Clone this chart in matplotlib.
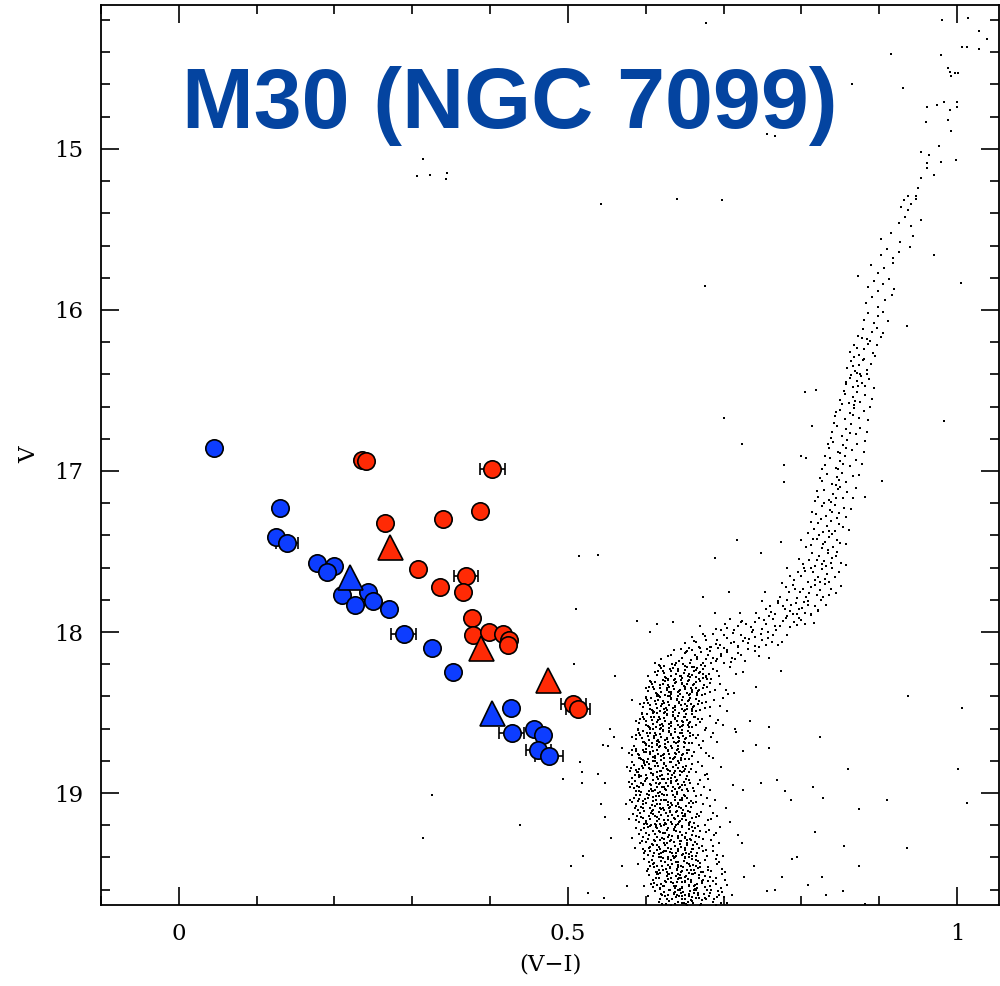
import numpy as np
import matplotlib
matplotlib.use('Agg')
import matplotlib.pyplot as plt
from matplotlib.ticker import MultipleLocator

# cluster stars: main sequence / turnoff / subgiant region, (V-I, V)
ms_stars = [
    (0.612,19.61),(0.628,19.63),(0.641,19.60),(0.655,19.64),(0.667,19.62),(0.634,19.66),(0.649,19.68),(0.660,19.67),
    (0.676,19.65),(0.621,19.69),(0.645,19.62),(0.638,19.69),(0.671,19.69),(0.688,19.66),(0.603,19.64),(0.657,19.61),
    (0.683,19.62),(0.630,19.60),(0.664,19.65),(0.619,19.66),(0.646,19.66),(0.652,19.69),(0.697,19.68),(0.625,19.64),
    (0.679,19.60),(0.711,19.63),(0.636,19.62),(0.662,19.60),(0.693,19.61),(0.643,19.64),
    (0.604,19.51),(0.617,19.53),(0.629,19.50),(0.640,19.55),(0.651,19.52),(0.663,19.57),(0.674,19.54),(0.623,19.58),
    (0.635,19.56),(0.647,19.59),(0.658,19.54),(0.669,19.51),(0.611,19.56),(0.682,19.58),(0.644,19.51),(0.632,19.53),
    (0.655,19.57),(0.618,19.59),(0.666,19.59),(0.598,19.58),(0.639,19.58),(0.650,19.55),(0.626,19.55),(0.660,19.50),
    (0.690,19.53),(0.705,19.57),(0.672,19.56),(0.614,19.50),(0.645,19.53),(0.726,19.52),
    (0.598,19.41),(0.609,19.44),(0.620,19.42),(0.631,19.46),(0.642,19.43),(0.653,19.48),(0.664,19.45),(0.614,19.49),
    (0.626,19.47),(0.637,19.40),(0.648,19.46),(0.659,19.41),(0.603,19.47),(0.671,19.49),(0.634,19.44),(0.622,19.48),
    (0.645,19.49),(0.656,19.44),(0.617,19.40),(0.667,19.42),(0.629,19.41),(0.640,19.47),(0.680,19.46),(0.694,19.43),
    (0.651,19.40),(0.611,19.46),(0.662,19.48),(0.702,19.49),(0.590,19.44),(0.739,19.45),
    (0.593,19.31),(0.604,19.34),(0.615,19.32),(0.626,19.36),(0.637,19.33),(0.648,19.38),(0.659,19.35),(0.609,19.39),
    (0.620,19.37),(0.631,19.30),(0.642,19.36),(0.653,19.31),(0.598,19.37),(0.665,19.39),(0.629,19.34),(0.617,19.38),
    (0.639,19.39),(0.650,19.34),(0.612,19.30),(0.661,19.32),(0.624,19.31),(0.634,19.37),(0.673,19.36),(0.687,19.33),
    (0.645,19.30),(0.606,19.36),(0.656,19.38),(0.699,19.39),(0.586,19.34),(0.724,19.31),
    (0.588,19.22),(0.596,19.27),(0.603,19.21),(0.611,19.29),(0.618,19.24),(0.624,19.20),(0.630,19.26),(0.636,19.23),
    (0.641,19.28),(0.647,19.21),(0.652,19.25),(0.658,19.29),(0.663,19.22),(0.669,19.27),(0.600,19.25),(0.614,19.22),
    (0.621,19.28),(0.627,19.23),(0.633,19.29),(0.644,19.24),(0.655,19.20),(0.607,19.20),(0.639,19.20),(0.650,19.28),
    (0.677,19.24),(0.684,19.29),(0.696,19.21),(0.719,19.26),(0.582,19.28),(0.660,19.26),
    (0.584,19.13),(0.591,19.18),(0.598,19.11),(0.605,19.16),(0.612,19.19),(0.617,19.12),(0.623,19.17),(0.629,19.14),
    (0.634,19.19),(0.640,19.11),(0.646,19.16),(0.651,19.13),(0.657,19.18),(0.664,19.15),(0.594,19.15),(0.609,19.13),
    (0.620,19.10),(0.626,19.19),(0.637,19.16),(0.643,19.18),(0.654,19.11),(0.602,19.19),(0.631,19.11),(0.648,19.14),
    (0.671,19.12),(0.680,19.17),(0.692,19.14),(0.708,19.18),(0.578,19.16),(0.615,19.15),
    (0.580,19.04),(0.587,19.08),(0.593,19.01),(0.600,19.06),(0.606,19.09),(0.613,19.02),(0.619,19.07),(0.624,19.04),
    (0.630,19.09),(0.635,19.01),(0.641,19.06),(0.647,19.03),(0.652,19.08),(0.658,19.05),(0.590,19.05),(0.603,19.03),
    (0.616,19.00),(0.622,19.09),(0.633,19.06),(0.639,19.08),(0.649,19.01),(0.597,19.09),(0.627,19.01),(0.644,19.04),
    (0.665,19.02),(0.674,19.07),(0.689,19.04),(0.703,19.09),(0.575,19.07),(0.610,19.05),
    (0.578,18.93),(0.585,18.97),(0.591,18.90),(0.597,18.95),(0.604,18.99),(0.609,18.92),(0.615,18.96),(0.621,18.91),
    (0.626,18.98),(0.632,18.94),(0.638,18.90),(0.643,18.97),(0.649,18.93),(0.654,18.99),(0.588,18.99),(0.600,18.91),
    (0.612,18.98),(0.618,18.94),(0.629,18.91),(0.635,18.96),(0.646,18.95),(0.594,18.94),(0.623,18.96),(0.640,18.92),
    (0.661,18.97),(0.670,18.92),(0.683,18.98),(0.712,18.95),(0.607,18.95),(0.652,18.91),
    (0.576,18.84),(0.583,18.81),(0.589,18.87),(0.595,18.83),(0.601,18.89),(0.607,18.85),(0.612,18.80),(0.618,18.86),
    (0.624,18.82),(0.629,18.88),(0.635,18.84),(0.641,18.80),(0.646,18.87),(0.652,18.83),(0.586,18.89),(0.598,18.80),
    (0.610,18.88),(0.616,18.83),(0.627,18.85),(0.633,18.81),(0.644,18.89),(0.592,18.85),(0.621,18.89),(0.638,18.86),
    (0.658,18.85),(0.667,18.81),(0.679,18.88),(0.697,18.84),(0.604,18.82),(0.649,18.86),
    (0.578,18.75),(0.585,18.71),(0.591,18.78),(0.597,18.73),(0.603,18.79),(0.609,18.74),(0.614,18.70),(0.620,18.77),
    (0.626,18.72),(0.631,18.78),(0.637,18.75),(0.642,18.71),(0.648,18.76),(0.653,18.73),(0.588,18.74),(0.600,18.70),
    (0.612,18.77),(0.618,18.71),(0.629,18.74),(0.635,18.79),(0.645,18.78),(0.594,18.79),(0.623,18.76),(0.640,18.73),
    (0.660,18.77),(0.671,18.72),(0.686,18.78),(0.725,18.74),(0.606,18.76),(0.651,18.79),
    (0.583,18.65),(0.590,18.61),(0.596,18.68),(0.602,18.63),(0.608,18.69),(0.613,18.64),(0.619,18.60),(0.625,18.67),
    (0.630,18.62),(0.636,18.68),(0.641,18.65),(0.647,18.61),(0.652,18.66),(0.657,18.63),(0.593,18.64),(0.605,18.60),
    (0.616,18.67),(0.622,18.61),(0.633,18.64),(0.639,18.69),(0.649,18.68),(0.599,18.69),(0.627,18.66),(0.644,18.63),
    (0.664,18.66),(0.676,18.61),(0.692,18.68),(0.716,18.62),(0.611,18.66),(0.655,18.69),
    (0.588,18.55),(0.595,18.51),(0.601,18.58),(0.607,18.53),(0.613,18.59),(0.618,18.54),(0.624,18.50),(0.630,18.57),
    (0.635,18.52),(0.641,18.58),(0.646,18.55),(0.652,18.51),(0.657,18.56),(0.663,18.53),(0.598,18.54),(0.610,18.50),
    (0.621,18.57),(0.627,18.51),(0.638,18.54),(0.644,18.59),(0.654,18.58),(0.604,18.59),(0.632,18.56),(0.649,18.53),
    (0.670,18.56),(0.682,18.52),(0.699,18.58),(0.615,18.56),(0.660,18.59),(0.734,18.55),
    (0.593,18.45),(0.600,18.41),(0.606,18.48),(0.612,18.43),(0.618,18.49),(0.623,18.44),(0.629,18.40),(0.635,18.47),
    (0.640,18.42),(0.646,18.48),(0.651,18.45),(0.657,18.41),(0.662,18.46),(0.668,18.43),(0.603,18.44),(0.615,18.40),
    (0.626,18.47),(0.632,18.41),(0.643,18.44),(0.649,18.49),(0.659,18.48),(0.609,18.49),(0.637,18.46),(0.654,18.43),
    (0.676,18.47),(0.688,18.42),(0.705,18.49),(0.620,18.46),(0.665,18.49),(0.583,18.42),
    (0.600,18.35),(0.607,18.31),(0.613,18.38),(0.619,18.33),(0.625,18.39),(0.630,18.34),(0.636,18.30),(0.642,18.37),
    (0.647,18.32),(0.653,18.38),(0.658,18.35),(0.664,18.31),(0.669,18.36),(0.675,18.33),(0.610,18.34),(0.622,18.30),
    (0.633,18.37),(0.639,18.31),(0.650,18.34),(0.656,18.39),(0.666,18.38),(0.616,18.39),(0.644,18.36),(0.661,18.33),
    (0.683,18.37),(0.696,18.32),(0.713,18.38),(0.627,18.36),(0.672,18.39),(0.742,18.34),
    (0.612,18.25),(0.619,18.21),(0.625,18.28),(0.631,18.23),(0.637,18.29),(0.642,18.24),(0.648,18.20),(0.654,18.27),
    (0.659,18.22),(0.665,18.28),(0.670,18.25),(0.676,18.21),(0.681,18.26),(0.687,18.23),(0.622,18.24),(0.634,18.20),
    (0.645,18.27),(0.651,18.21),(0.662,18.24),(0.668,18.29),(0.678,18.28),(0.628,18.29),(0.656,18.26),(0.673,18.23),
    (0.694,18.27),(0.708,18.22),(0.639,18.26),(0.684,18.29),(0.725,18.25),(0.603,18.27),
    (0.628,18.15),(0.636,18.11),(0.643,18.18),(0.650,18.13),(0.657,18.19),(0.663,18.14),(0.670,18.10),(0.677,18.17),
    (0.683,18.12),(0.690,18.18),(0.697,18.15),(0.704,18.11),(0.711,18.16),(0.646,18.16),(0.660,18.11),(0.673,18.19),
    (0.686,18.16),(0.700,18.19),(0.718,18.13),(0.639,18.19),(0.653,18.12),(0.666,18.17),(0.680,18.14),(0.693,18.10),
    (0.728,18.18),(0.741,18.12),(0.620,18.17),(0.758,18.16),
    (0.650,18.07),(0.660,18.03),(0.669,18.09),(0.678,18.05),(0.687,18.01),(0.696,18.08),(0.705,18.04),(0.714,18.06),
    (0.723,18.02),(0.732,18.07),(0.741,18.03),(0.750,18.05),(0.664,18.06),(0.682,18.09),(0.700,18.02),(0.718,18.09),
    (0.736,18.00),(0.755,18.08),(0.673,18.01),(0.691,18.05),(0.709,18.07),(0.727,18.04),(0.746,18.09),(0.764,18.02),
    (0.775,18.06),(0.655,18.10),
    (0.690,17.98),(0.702,17.95),(0.713,17.99),(0.724,17.93),(0.735,17.97),(0.745,17.91),(0.754,17.95),(0.763,17.92),
    (0.772,17.96),(0.781,17.90),(0.790,17.94),(0.708,17.92),(0.729,17.95),(0.749,17.98),(0.767,17.99),(0.785,17.97),
    (0.718,17.96),(0.740,17.94),(0.758,17.90),(0.776,17.93),(0.797,17.91),(0.697,17.99),(0.805,17.95),
    (0.742,17.88),(0.755,17.86),(0.766,17.89),(0.776,17.84),(0.785,17.87),(0.793,17.82),(0.801,17.85),(0.809,17.81),
    (0.817,17.84),(0.825,17.80),(0.770,17.82),(0.789,17.89),(0.805,17.88),(0.821,17.87),(0.760,17.84),(0.797,17.86),
    (0.813,17.89),(0.781,17.80),(0.832,17.83),(0.750,17.81),
    (0.772,17.78),(0.784,17.75),(0.794,17.79),(0.802,17.73),(0.810,17.76),(0.817,17.71),(0.824,17.74),(0.831,17.70),
    (0.838,17.73),(0.789,17.71),(0.806,17.78),(0.820,17.77),(0.798,17.75),(0.813,17.72),(0.828,17.78),(0.845,17.76),
    (0.780,17.72),(0.835,17.77),
    (0.790,17.68),(0.800,17.65),(0.808,17.69),(0.815,17.63),(0.821,17.66),(0.827,17.61),(0.833,17.64),(0.839,17.60),
    (0.805,17.62),(0.818,17.68),(0.830,17.67),(0.812,17.60),(0.824,17.69),(0.843,17.66),(0.796,17.63),(0.836,17.69),
    (0.802,17.58),(0.810,17.55),(0.817,17.59),(0.823,17.53),(0.829,17.56),(0.834,17.51),(0.840,17.54),(0.846,17.50),
    (0.814,17.51),(0.826,17.58),(0.838,17.57),(0.820,17.55),(0.851,17.57),(0.832,17.59),
]

# densest part of the main sequence and turnoff
ms_core_stars = [
    (0.617,19.675),(0.624,19.615),(0.633,19.695),(0.639,19.645),(0.644,19.605),(0.650,19.655),(0.656,19.625),
    (0.661,19.685),(0.667,19.635),(0.672,19.665),(0.627,19.655),(0.636,19.625),(0.642,19.675),(0.648,19.615),
    (0.653,19.695),(0.659,19.645),(0.664,19.605),(0.670,19.695),(0.675,19.625),(0.621,19.635),(0.631,19.605),
    (0.646,19.685),(0.658,19.665),(0.678,19.655),(0.640,19.635),
    (0.607,19.565),(0.613,19.525),(0.619,19.595),(0.625,19.545),(0.630,19.505),(0.636,19.575),(0.641,19.535),
    (0.647,19.585),(0.652,19.515),(0.658,19.555),(0.663,19.595),(0.669,19.525),(0.616,19.505),(0.622,19.575),
    (0.628,19.535),(0.633,19.555),(0.639,19.515),(0.644,19.595),(0.650,19.545),(0.655,19.575),(0.661,19.505),
    (0.666,19.565),(0.672,19.545),(0.610,19.585),(0.643,19.525),
    (0.602,19.485),(0.608,19.415),(0.614,19.455),(0.619,19.495),(0.625,19.425),(0.631,19.465),(0.636,19.405),
    (0.642,19.445),(0.647,19.485),(0.653,19.435),(0.658,19.475),(0.664,19.415),(0.611,19.435),(0.617,19.475),
    (0.622,19.405),(0.628,19.445),(0.634,19.495),(0.639,19.425),(0.645,19.455),(0.650,19.405),(0.656,19.495),
    (0.661,19.445),(0.667,19.465),(0.605,19.455),(0.640,19.475),
    (0.597,19.345),(0.603,19.385),(0.608,19.315),(0.614,19.355),(0.620,19.395),(0.625,19.325),(0.631,19.365),
    (0.636,19.305),(0.642,19.345),(0.647,19.385),(0.653,19.325),(0.658,19.365),(0.663,19.305),(0.600,19.305),
    (0.611,19.375),(0.617,19.335),(0.622,19.365),(0.628,19.395),(0.633,19.345),(0.639,19.375),(0.644,19.315),
    (0.650,19.355),(0.655,19.395),(0.661,19.345),(0.606,19.335),
    (0.592,19.255),(0.598,19.215),(0.603,19.285),(0.609,19.235),(0.614,19.275),(0.620,19.205),(0.625,19.245),
    (0.631,19.295),(0.636,19.225),(0.641,19.265),(0.647,19.205),(0.652,19.245),(0.657,19.285),(0.595,19.295),
    (0.601,19.245),(0.606,19.205),(0.612,19.255),(0.617,19.235),(0.623,19.285),(0.628,19.215),(0.634,19.265),
    (0.639,19.235),(0.644,19.295),(0.650,19.275),(0.655,19.225),
    (0.587,19.165),(0.593,19.125),(0.598,19.195),(0.604,19.145),(0.609,19.105),(0.615,19.175),(0.620,19.135),
    (0.625,19.185),(0.631,19.115),(0.636,19.155),(0.641,19.195),(0.647,19.125),(0.652,19.165),(0.590,19.105),
    (0.596,19.155),(0.601,19.185),(0.607,19.125),(0.612,19.145),(0.618,19.195),(0.623,19.105),(0.628,19.165),
    (0.634,19.135),(0.639,19.115),(0.644,19.175),(0.650,19.145),
    (0.583,19.055),(0.588,19.015),(0.594,19.085),(0.599,19.035),(0.605,19.095),(0.610,19.025),(0.615,19.065),
    (0.621,19.005),(0.626,19.045),(0.631,19.085),(0.637,19.025),(0.642,19.065),(0.647,19.045),(0.586,19.095),
    (0.591,19.035),(0.597,19.065),(0.602,19.005),(0.608,19.075),(0.613,19.045),(0.618,19.095),(0.624,19.015),
    (0.629,19.055),(0.634,19.075),(0.640,19.005),(0.645,19.095),
    (0.580,18.965),(0.586,18.925),(0.591,18.985),(0.597,18.945),(0.602,18.905),(0.607,18.975),(0.613,18.935),
    (0.618,18.995),(0.623,18.915),(0.629,18.955),(0.634,18.985),(0.639,18.925),(0.644,18.965),(0.583,18.905),
    (0.589,18.955),(0.594,18.995),(0.599,18.925),(0.605,18.945),(0.610,18.985),(0.616,18.915),(0.621,18.965),
    (0.626,18.935),(0.632,18.905),(0.637,18.975),(0.642,18.945),
    (0.580,18.865),(0.585,18.825),(0.591,18.885),(0.596,18.845),(0.602,18.805),(0.607,18.875),(0.612,18.835),
    (0.618,18.895),(0.623,18.815),(0.628,18.855),(0.634,18.885),(0.639,18.825),(0.644,18.865),(0.583,18.805),
    (0.588,18.855),(0.594,18.895),(0.599,18.825),(0.604,18.845),(0.610,18.885),(0.615,18.815),(0.620,18.865),
    (0.626,18.835),(0.631,18.805),(0.636,18.875),(0.641,18.845),
    (0.582,18.765),(0.587,18.725),(0.593,18.785),(0.598,18.745),(0.604,18.705),(0.609,18.775),(0.614,18.735),
    (0.620,18.795),(0.625,18.715),(0.630,18.755),(0.636,18.785),(0.641,18.725),(0.646,18.765),(0.585,18.705),
    (0.590,18.755),(0.596,18.795),(0.601,18.725),(0.606,18.745),(0.612,18.785),(0.617,18.715),(0.622,18.765),
    (0.628,18.735),(0.633,18.705),(0.638,18.775),(0.643,18.745),
    (0.587,18.665),(0.592,18.625),(0.598,18.685),(0.603,18.645),(0.609,18.605),(0.614,18.675),(0.619,18.635),
    (0.625,18.695),(0.630,18.615),(0.635,18.655),(0.641,18.685),(0.646,18.625),(0.651,18.665),(0.590,18.605),
    (0.595,18.655),(0.601,18.695),(0.606,18.625),(0.611,18.645),(0.617,18.685),(0.622,18.615),(0.627,18.665),
    (0.633,18.635),(0.638,18.605),(0.643,18.675),(0.648,18.645),
    (0.592,18.565),(0.597,18.525),(0.603,18.585),(0.608,18.545),(0.614,18.505),(0.619,18.575),(0.624,18.535),
    (0.630,18.595),(0.635,18.515),(0.640,18.555),(0.646,18.585),(0.651,18.525),(0.656,18.565),(0.595,18.505),
    (0.600,18.555),(0.606,18.595),(0.611,18.525),(0.616,18.545),(0.622,18.585),(0.627,18.515),(0.632,18.565),
    (0.638,18.535),(0.643,18.505),(0.648,18.575),(0.653,18.545),
    (0.597,18.465),(0.602,18.425),(0.608,18.485),(0.613,18.445),(0.619,18.405),(0.624,18.475),(0.629,18.435),
    (0.635,18.495),(0.640,18.415),(0.645,18.455),(0.651,18.485),(0.656,18.425),(0.661,18.465),(0.600,18.405),
    (0.605,18.455),(0.611,18.495),(0.616,18.425),(0.621,18.445),(0.627,18.485),(0.632,18.415),(0.637,18.465),
    (0.643,18.435),(0.648,18.405),(0.653,18.475),(0.658,18.445),
    (0.603,18.365),(0.608,18.325),(0.614,18.385),(0.619,18.345),(0.625,18.305),(0.630,18.375),(0.635,18.335),
    (0.641,18.395),(0.646,18.315),(0.651,18.355),(0.657,18.385),(0.662,18.325),(0.667,18.365),(0.606,18.305),
    (0.611,18.355),(0.617,18.395),(0.622,18.325),(0.627,18.345),(0.633,18.385),(0.638,18.315),(0.643,18.365),
    (0.649,18.335),(0.654,18.305),(0.659,18.375),(0.664,18.345),
    (0.614,18.265),(0.620,18.225),(0.626,18.285),(0.632,18.245),(0.638,18.205),(0.644,18.275),(0.650,18.235),
    (0.656,18.295),(0.662,18.215),(0.668,18.255),(0.674,18.285),(0.617,18.205),(0.623,18.255),(0.629,18.295),
    (0.635,18.225),(0.641,18.245),(0.647,18.285),(0.653,18.215),(0.659,18.265),(0.665,18.235),(0.671,18.205),
    (0.677,18.275),
    (0.632,18.145),(0.645,18.105),(0.658,18.175),(0.671,18.125),(0.684,18.195),(0.697,18.135),(0.710,18.185),
    (0.652,18.125),(0.666,18.155),(0.679,18.105),(0.692,18.165),(0.705,18.125),(0.723,18.145),
    (0.662,18.055),(0.676,18.025),(0.690,18.075),(0.704,18.035),(0.718,18.085),(0.733,18.045),(0.748,18.015),
    (0.762,18.065),(0.684,18.095),(0.712,18.005),(0.740,18.085),
    (0.705,17.975),(0.722,17.935),(0.738,17.985),(0.752,17.925),(0.766,17.965),(0.780,17.915),(0.794,17.955),
    (0.761,17.875),(0.779,17.855),(0.795,17.885),(0.808,17.835),(0.822,17.865),(0.770,17.805),(0.787,17.835),
    (0.803,17.815),
]

# more main-sequence stars between the ones above
ms_fill_stars = [
    (0.620,19.628),(0.630,19.672),(0.637,19.612),(0.647,19.642),(0.654,19.678),(0.662,19.618),(0.668,19.652),
    (0.681,19.638),(0.690,19.692),(0.700,19.648),(0.626,19.688),(0.651,19.632),
    (0.609,19.538),(0.620,19.562),(0.627,19.518),(0.637,19.592),(0.646,19.552),(0.654,19.532),(0.662,19.578),
    (0.676,19.512),(0.686,19.548),(0.697,19.588),(0.615,19.572),(0.641,19.502),
    (0.604,19.428),(0.613,19.488),(0.621,19.452),(0.633,19.418),(0.641,19.462),(0.649,19.422),(0.657,19.452),
    (0.670,19.432),(0.680,19.478),(0.690,19.412),(0.627,19.492),(0.663,19.498),
    (0.599,19.362),(0.610,19.322),(0.618,19.348),(0.627,19.312),(0.635,19.388),(0.645,19.338),(0.652,19.372),
    (0.666,19.318),(0.677,19.352),(0.691,19.382),(0.623,19.358),(0.659,19.392),
    (0.594,19.232),(0.604,19.262),(0.613,19.212),(0.622,19.248),(0.629,19.272),(0.638,19.208),(0.646,19.262),
    (0.660,19.212),(0.670,19.238),(0.688,19.262),(0.618,19.292),(0.653,19.292),
    (0.589,19.142),(0.600,19.172),(0.608,19.112),(0.617,19.158),(0.626,19.122),(0.633,19.178),(0.642,19.142),
    (0.655,19.188),(0.666,19.132),(0.684,19.158),(0.613,19.198),(0.648,19.108),
    (0.585,19.032),(0.596,19.052),(0.604,19.012),(0.612,19.082),(0.620,19.042),(0.628,19.072),(0.638,19.042),
    (0.650,19.018),(0.661,19.062),(0.679,19.028),(0.617,19.018),(0.643,19.088),
    (0.582,18.942),(0.592,18.962),(0.600,18.912),(0.608,18.988),(0.617,18.942),(0.625,18.972),(0.633,18.922),
    (0.647,18.982),(0.657,18.938),(0.675,18.962),(0.614,18.902),(0.640,18.992),
    (0.581,18.842),(0.590,18.872),(0.598,18.812),(0.606,18.852),(0.614,18.872),(0.622,18.842),(0.631,18.862),
    (0.643,18.812),(0.655,18.872),(0.672,18.832),(0.609,18.802),(0.637,18.898),
    (0.583,18.732),(0.592,18.762),(0.600,18.742),(0.608,18.712),(0.616,18.758),(0.624,18.782),(0.634,18.722),
    (0.645,18.792),(0.656,18.732),(0.678,18.752),(0.611,18.798),(0.639,18.758),
    (0.588,18.642),(0.597,18.612),(0.604,18.672),(0.612,18.628),(0.620,18.652),(0.628,18.682),(0.637,18.622),
    (0.650,18.692),(0.661,18.642),(0.684,18.652),(0.615,18.698),(0.643,18.658),
    (0.593,18.542),(0.602,18.512),(0.609,18.572),(0.617,18.528),(0.625,18.552),(0.633,18.582),(0.642,18.522),
    (0.655,18.592),(0.667,18.542),(0.690,18.562),(0.620,18.598),(0.648,18.558),
    (0.598,18.442),(0.607,18.412),(0.614,18.472),(0.622,18.428),(0.630,18.452),(0.638,18.482),(0.647,18.422),
    (0.660,18.492),(0.672,18.442),(0.696,18.462),(0.625,18.498),(0.653,18.458),
    (0.604,18.342),(0.612,18.312),(0.620,18.372),(0.628,18.328),(0.636,18.352),(0.644,18.382),(0.653,18.322),
    (0.666,18.392),(0.679,18.342),(0.703,18.362),(0.631,18.398),(0.660,18.358),
    (0.616,18.242),(0.624,18.212),(0.633,18.272),(0.641,18.228),(0.649,18.252),(0.657,18.282),(0.666,18.222),
    (0.679,18.292),(0.691,18.242),(0.716,18.262),(0.645,18.298),(0.673,18.258),
]

# red edge of the main sequence and extra subgiants
ms_edge_stars = [
    (0.684,19.603),(0.691,19.647),(0.698,19.617),(0.704,19.683),(0.686,19.677),(0.694,19.633),
    (0.676,19.583),(0.683,19.523),(0.690,19.567),(0.698,19.503),(0.680,19.547),(0.702,19.537),
    (0.670,19.457),(0.676,19.413),(0.684,19.487),(0.692,19.443),(0.673,19.493),(0.698,19.473),
    (0.666,19.373),(0.672,19.327),(0.679,19.393),(0.686,19.357),(0.668,19.343),(0.694,19.313),
    (0.661,19.237),(0.667,19.203),(0.674,19.283),(0.681,19.227),(0.664,19.267),(0.690,19.247),
    (0.657,19.117),(0.662,19.183),(0.669,19.143),(0.676,19.197),(0.660,19.153),(0.686,19.123),
    (0.653,19.033),(0.658,19.087),(0.665,19.057),(0.671,19.013),(0.656,19.063),(0.683,19.083),
    (0.650,18.953),(0.655,18.917),(0.662,18.987),(0.667,18.943),(0.653,18.973),(0.680,18.913),
    (0.648,18.837),(0.653,18.893),(0.660,18.817),(0.665,18.867),(0.651,18.853),(0.676,18.887),
    (0.649,18.717),(0.655,18.787),(0.662,18.747),(0.668,18.703),(0.653,18.753),(0.681,18.767),
    (0.654,18.617),(0.660,18.687),(0.667,18.637),(0.673,18.677),(0.657,18.647),(0.687,18.627),
    (0.659,18.507),(0.665,18.577),(0.672,18.537),(0.678,18.593),(0.662,18.527),(0.693,18.547),
    (0.664,18.417),(0.670,18.487),(0.677,18.437),(0.683,18.467),(0.667,18.447),(0.699,18.407),
    (0.670,18.307),(0.676,18.387),(0.683,18.317),(0.689,18.357),(0.673,18.347),(0.706,18.387),
    (0.715,18.167),(0.731,18.107),(0.746,18.147),(0.700,18.097),(0.725,18.053),(0.757,18.037),
    (0.770,18.083),(0.782,18.017),(0.757,17.997),(0.786,17.967),(0.800,17.927),(0.812,17.897),(0.816,17.947),
]

# red giant branch above V = 17.5
rgb_stars = [
    (0.812,17.46),(0.820,17.42),(0.826,17.48),(0.831,17.44),(0.836,17.41),(0.841,17.47),(0.846,17.43),(0.823,17.40),
    (0.834,17.49),(0.850,17.45),(0.816,17.36),(0.822,17.32),(0.828,17.38),(0.833,17.34),(0.838,17.31),(0.843,17.37),
    (0.848,17.33),(0.825,17.30),(0.840,17.39),(0.853,17.35),(0.819,17.27),(0.826,17.22),(0.832,17.28),(0.837,17.24),
    (0.843,17.21),(0.849,17.26),(0.855,17.23),(0.829,17.20),(0.846,17.29),(0.822,17.16),(0.829,17.12),(0.835,17.18),
    (0.841,17.14),(0.847,17.11),(0.853,17.17),(0.859,17.13),(0.838,17.19),(0.850,17.10),(0.826,17.06),(0.833,17.02),
    (0.840,17.08),(0.846,17.04),(0.852,17.01),(0.858,17.07),(0.866,17.03),(0.844,17.09),(0.830,16.96),(0.837,16.92),
    (0.844,16.98),(0.850,16.94),(0.856,16.91),(0.862,16.97),(0.870,16.93),(0.847,16.99),(0.835,16.86),(0.841,16.82),
    (0.847,16.88),(0.853,16.84),(0.859,16.81),(0.865,16.87),(0.872,16.83),(0.850,16.89),(0.839,16.76),(0.846,16.72),
    (0.852,16.78),(0.858,16.74),(0.864,16.71),(0.870,16.77),(0.876,16.73),(0.843,16.66),(0.850,16.62),(0.856,16.68),
    (0.862,16.64),(0.868,16.61),(0.874,16.67),(0.880,16.63),(0.850,16.56),(0.856,16.52),(0.861,16.58),(0.866,16.54),
    (0.871,16.51),(0.876,16.57),(0.882,16.53),(0.868,16.59),(0.857,16.46),(0.862,16.42),(0.867,16.48),(0.872,16.44),
    (0.877,16.41),(0.882,16.47),(0.887,16.43),(0.859,16.36),(0.864,16.32),(0.869,16.38),(0.874,16.34),(0.879,16.31),
    (0.884,16.37),(0.872,16.39),(0.862,16.26),(0.868,16.22),(0.874,16.28),(0.880,16.24),(0.886,16.21),(0.892,16.27),
    (0.873,16.16),(0.879,16.12),(0.885,16.18),(0.891,16.14),(0.897,16.11),(0.903,16.17),(0.888,16.19),(0.880,16.06),
    (0.886,16.02),(0.893,16.08),(0.899,16.04),(0.905,16.01),(0.911,16.07),(0.883,15.96),(0.891,15.92),(0.899,15.98),
    (0.907,15.94),(0.916,15.91),(0.886,15.86),(0.893,15.82),(0.899,15.88),(0.905,15.84),(0.912,15.81),(0.919,15.87),
    (0.873,15.79),(0.890,15.72),(0.898,15.77),(0.906,15.74),(0.918,15.71),(0.902,15.66),(0.910,15.62),(0.918,15.68),
    (0.926,15.64),(0.939,15.61),(0.903,15.56),(0.915,15.52),(0.927,15.58),(0.944,15.54),(0.925,15.46),(0.933,15.42),
    (0.941,15.48),(0.954,15.44),(0.928,15.36),(0.932,15.32),(0.937,15.38),(0.941,15.34),(0.947,15.31),(0.937,15.29),
    (0.947,15.29),(0.950,15.24),(0.954,15.18),(0.970,15.16),(0.962,15.12),(0.954,15.02),(0.964,15.04),(0.961,15.09),
    (0.979,15.08),(0.999,15.07),(0.977,14.98),(0.992,14.89),(0.960,14.83),(0.988,14.82),(0.961,14.74),(0.974,14.73),
    (0.983,14.71),(1.000,14.71),(1.000,14.74),(0.991,14.76),(0.988,14.50),(0.991,14.52),(0.992,14.55),(0.997,14.53),
    (1.001,14.53),(0.979,14.42),(1.006,14.37),(1.013,14.37),(1.028,14.38),(0.981,14.20),(1.014,14.19),(1.028,14.27),
    (1.038,14.32),
    (0.775,17.695),(0.792,17.735),(0.851,17.715),(0.786,17.655),(0.849,17.625),(0.803,17.605),(0.858,17.585),
    (0.797,17.545),(0.845,17.525),(0.806,17.475),(0.858,17.455),(0.815,17.425),(0.809,17.385),(0.861,17.365),
    (0.812,17.315),(0.858,17.285),(0.814,17.255),(0.864,17.235),(0.817,17.185),(0.867,17.165),(0.820,17.125),
    (0.870,17.105),(0.824,17.045),(0.874,17.025),(0.827,16.985),(0.878,16.955),(0.831,16.905),(0.880,16.885),
    (0.834,16.835),(0.882,16.815),(0.838,16.795),(0.884,16.755),(0.842,16.705),(0.886,16.685),(0.845,16.635),
    (0.888,16.605),(0.852,16.585),(0.891,16.555),(0.855,16.505),(0.893,16.485),(0.858,16.445),(0.878,16.455),
    (0.864,16.405),(0.885,16.395),(0.866,16.345),(0.890,16.335),(0.868,16.295),(0.895,16.285),(0.871,16.235),
    (0.897,16.215),(0.878,16.175),(0.905,16.145),
    (0.828,17.455),(0.835,17.375),(0.840,17.255),(0.844,17.165),(0.849,17.055),(0.854,16.955),(0.858,16.855),
    (0.862,16.765),(0.866,16.655),(0.869,16.565),(0.873,16.475),(0.876,16.395),(0.880,16.305),
]

# field / scattered stars
field_stars = [
    (0.314,15.06),(0.306,15.17),(0.323,15.16),(0.344,15.15),(0.343,15.19),(0.542,15.34),(0.640,15.31),(0.698,15.32),
    (0.677,14.22),(0.865,14.60),(0.931,14.62),(0.915,14.41),(0.756,14.91),(0.766,14.92),(0.676,15.85),(1.005,15.83),
    (0.936,16.10),(0.970,15.66),(0.724,16.83),(0.700,16.67),(0.805,16.51),(0.819,16.50),(0.983,16.69),(0.904,17.06),
    (0.882,17.16),(0.778,16.96),(0.778,17.07),(0.800,16.91),(0.806,16.92),(0.814,16.72),(0.514,17.53),(0.539,17.52),
    (0.510,17.86),(0.508,18.20),(0.515,18.81),(0.518,18.87),(0.494,18.91),(0.518,18.94),(0.539,18.88),(0.589,17.93),
    (0.614,17.95),(0.635,17.94),(0.605,18.00),(0.670,17.96),(0.689,17.88),(0.721,17.88),(0.560,18.27),(0.612,18.19),
    (0.774,18.24),(0.937,18.40),(1.006,18.47),(0.758,18.59),(0.824,18.65),(0.715,18.60),(0.742,18.70),(0.758,18.72),
    (0.860,18.85),(1.001,18.85),(1.013,19.06),(0.910,19.04),(0.874,19.10),(0.828,19.03),(0.815,18.96),(0.779,18.99),
    (0.787,19.04),(0.769,18.92),(0.748,18.94),(0.725,18.98),(0.817,19.24),(0.855,19.33),(0.936,19.34),(0.874,19.45),
    (0.826,19.52),(0.794,19.40),(0.788,19.41),(0.808,19.57),(0.832,19.63),(0.853,19.61),(0.882,19.69),(0.775,19.52),
    (0.756,19.61),(0.766,19.60),(0.548,18.94),(0.542,19.07),(0.548,19.15),(0.556,19.28),(0.520,19.39),(0.504,19.45),
    (0.569,19.45),(0.526,19.62),(0.546,19.65),(0.576,19.58),(0.559,18.65),(0.545,18.70),(0.551,18.71),(0.569,18.72),
    (0.554,18.60),(0.325,19.01),(0.438,19.20),(0.314,19.28),(0.717,17.43),(0.774,17.44),(0.800,17.43),(0.748,17.51),
    (0.689,17.54),(0.781,17.60),(0.707,17.75),(0.753,17.75),(0.674,17.78),
]

# variable stars (blue and red groups), xerr = 0 means no error bar shown
blue_vi = [0.045, 0.130, 0.125, 0.139, 0.177, 0.199, 0.190, 0.210, 0.226, 0.243, 0.250,
           0.270, 0.289, 0.325, 0.352, 0.427, 0.428, 0.456, 0.468, 0.462, 0.476]
blue_v = [16.86, 17.23, 17.41, 17.45, 17.57, 17.59, 17.63, 17.77, 17.83, 17.75, 17.81,
          17.86, 18.01, 18.10, 18.25, 18.47, 18.63, 18.60, 18.64, 18.73, 18.77]
blue_err = [0, 0, 0, 0.014, 0, 0, 0, 0, 0, 0, 0,
            0, 0.016, 0, 0, 0, 0.016, 0, 0, 0.016, 0.018]

red_vi = [0.236, 0.240, 0.403, 0.387, 0.339, 0.265, 0.308, 0.369, 0.336, 0.365, 0.377,
          0.378, 0.398, 0.416, 0.424, 0.423, 0.507, 0.513]
red_v = [16.93, 16.94, 16.99, 17.25, 17.30, 17.32, 17.61, 17.65, 17.72, 17.75, 17.91,
         18.02, 18.00, 18.01, 18.05, 18.08, 18.45, 18.48]
red_err = [0, 0, 0.016, 0, 0, 0, 0, 0.016, 0, 0, 0,
           0, 0, 0, 0, 0, 0.016, 0.016]

blue_tri_vi = [0.220, 0.402]
blue_tri_v = [17.66, 18.50]
red_tri_vi = [0.272, 0.388, 0.474]
red_tri_v = [17.47, 18.10, 18.30]

BLUE = '#0d3dff'
RED = '#ff2a05'

fig = plt.figure(figsize=(10, 9.86), dpi=100)
ax = fig.add_axes([0.101, 0.082, 0.898, 0.913])

stars = np.array(ms_stars + ms_core_stars + ms_fill_stars + ms_edge_stars + rgb_stars + field_stars)
ax.plot(stars[:, 0], stars[:, 1], 's', color='black', markersize=1.8,
        markeredgewidth=0, linestyle='none', zorder=1)

# error bars (drawn under the symbols so only the caps show)
for vi, v, err in [(blue_vi, blue_v, blue_err), (red_vi, red_v, red_err)]:
    vi = np.array(vi); v = np.array(v); err = np.array(err)
    m = err > 0
    ax.errorbar(vi[m], v[m], xerr=err[m], fmt='none', ecolor='black',
                elinewidth=1.2, capsize=4.5, capthick=1.2, zorder=2)

ax.plot(blue_vi, blue_v, 'o', color=BLUE, markersize=12.5, markeredgecolor='black',
        markeredgewidth=1.2, linestyle='none', zorder=3)
ax.plot(red_vi, red_v, 'o', color=RED, markersize=12.5, markeredgecolor='black',
        markeredgewidth=1.2, linestyle='none', zorder=3)
ax.plot(blue_tri_vi, blue_tri_v, '^', color=BLUE, markersize=18, markeredgecolor='black',
        markeredgewidth=1.2, linestyle='none', zorder=4)
ax.plot(red_tri_vi, red_tri_v, '^', color=RED, markersize=18, markeredgecolor='black',
        markeredgewidth=1.2, linestyle='none', zorder=4)

ax.set_xlim(-0.1, 1.054)
ax.set_ylim(19.696, 14.106)

ax.xaxis.set_major_locator(MultipleLocator(0.5))
ax.xaxis.set_minor_locator(MultipleLocator(0.1))
ax.yaxis.set_major_locator(MultipleLocator(1))
ax.yaxis.set_minor_locator(MultipleLocator(0.2))
ax.set_xticks([0, 0.5, 1])
ax.set_xticklabels(['0', '0.5', '1'])
ax.set_yticks([15, 16, 17, 18, 19])

ax.tick_params(which='both', direction='in', top=True, right=True, width=1.2,
               labelsize=16.5, pad=13)
ax.tick_params(which='major', length=13)
ax.tick_params(which='minor', length=6.5)
for lab in ax.get_xticklabels() + ax.get_yticklabels():
    lab.set_family('DejaVu Serif')
for sp in ax.spines.values():
    sp.set_linewidth(1.3)

ax.set_xlabel('(V\u2212I)', family='DejaVu Serif', fontsize=16.5, labelpad=6)
ax.set_ylabel('V', family='DejaVu Serif', fontsize=16.5, labelpad=10)

fig.text(0.51, 0.892, 'M30 (NGC 7099)', ha='center', va='center',
         fontsize=62, fontweight='bold', family='Liberation Sans', color='#0444a0')

fig.savefig('out.png', dpi=100)
